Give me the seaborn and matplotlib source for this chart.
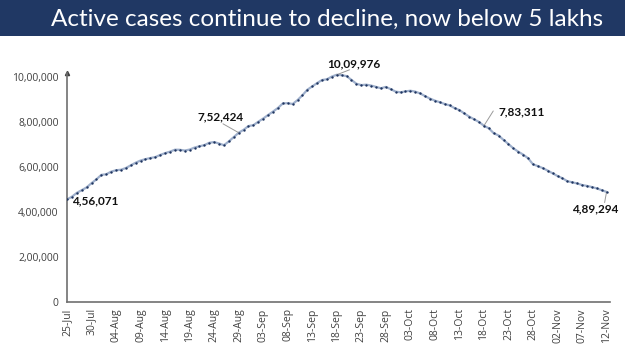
import matplotlib
matplotlib.use("Agg")
import matplotlib.pyplot as plt
import matplotlib.ticker as ticker
from matplotlib.patches import Rectangle
import numpy as np
import pandas as pd
import seaborn as sns

# daily active cases, 25-Jul .. 12-Nov
active = [
    456071, 467882, 485114, 496988, 509447, 528242, 545318,          # 25-31 Jul
    565103, 567730, 579357, 585587, 587825, 595501, 607384, 619088,  # 1-8 Aug
    628747, 634945, 639929, 643948, 653622, 661595, 668220, 676900,  # 9-16 Aug
    676514, 673166, 677444, 686395, 692028, 697330, 707668, 710771,  # 17-24 Aug
    704348, 697000, 714000, 733000, 752424, 765302, 781975,          # 25-31 Aug
    785996, 801282, 815538, 831124, 846395, 862320, 882542, 883697,  # 1-8 Sep
    880000, 897394, 919018, 943480, 958316, 973175, 986598, 990061,  # 9-16 Sep
    1002000, 1009976, 1008000, 1004000, 987000, 970000, 964000,      # 17-23 Sep
    966000, 962000, 956000, 950000, 956000, 946000, 935000,          # 24-30 Sep
    932000, 936000, 939000, 935000, 927000, 915000, 904000, 895000,  # 1-8 Oct
    888000, 880000, 874000, 862000, 853000, 838000, 824000, 812000,  # 9-16 Oct
    800000, 783311, 772000, 750000, 740000, 720000, 702000, 683000,  # 17-24 Oct
    668000, 655000, 639000, 612000, 604000, 595000, 584000,          # 25-31 Oct
    572000, 560000, 550000, 537000, 532000, 527000, 520000, 516000,  # 1-8 Nov
    511000, 505000, 497000, 489294,                                  # 9-12 Nov
]
dates = pd.date_range("2020-07-25", "2020-11-12", freq="D")

# labelled days
callouts = ["2020-07-25", "2020-08-29", "2020-09-18", "2020-10-18", "2020-11-12"]

def lakh_fmt(v):
    s = str(int(round(v)))
    if len(s) <= 3:
        return s
    head, tail = s[:-3], s[-3:]
    parts = []
    while len(head) > 2:
        parts.insert(0, head[-2:])
        head = head[:-2]
    if head:
        parts.insert(0, head)
    return ",".join(parts + [tail])

df = pd.DataFrame({"day": np.arange(len(active)), "active": active})

sns.set_style("white")
plt.rcParams['font.family'] = ['Open Sans', 'DejaVu Sans']

fig = plt.figure(figsize=(6.25, 3.51), dpi=100)
fig.patches.append(Rectangle((0, 1 - 36 / 351), 1, 36 / 351, transform=fig.transFigure,
                             facecolor="#203864", edgecolor="none", zorder=0))
fig.text(0.523, 1 - 19 / 351, "Active cases continue to decline, now below 5 lakhs",
         color="white", fontsize=17.5, ha="center", va="center", family=['Lato', 'DejaVu Sans'])

ax = fig.add_axes([67 / 625, 1 - 302 / 351, 543 / 625, (302 - 72.5) / 351])
sns.lineplot(data=df, x="day", y="active", ax=ax, color="#9fb0cc", linewidth=1.6)
sns.scatterplot(data=df, x="day", y="active", ax=ax, color="#1f3560", s=3, linewidth=0, zorder=3)

ax.set_xlim(0, 110.7)
ax.set_ylim(0, 1.02e6)
ax.set_xlabel("")
ax.set_ylabel("")

ax.yaxis.set_major_locator(ticker.MultipleLocator(200000))
ax.yaxis.set_major_formatter(ticker.FuncFormatter(lambda v, p: lakh_fmt(v)))
xt = np.arange(0, len(dates), 5)
ax.set_xticks(xt)
ax.set_xticklabels([dates[i].strftime("%d-%b") for i in xt], rotation=90)
ax.tick_params(axis='y', length=0, labelsize=7.5, colors="#404040", pad=6)
ax.tick_params(axis='x', direction='inout', length=5, width=0.8, color="#606060",
               labelsize=7.5, labelcolor="#404040", pad=2)

for s in ["top", "right"]:
    ax.spines[s].set_visible(False)
for s in ["left", "bottom"]:
    ax.spines[s].set_color("#707070")
    ax.spines[s].set_linewidth(1.2)
ax.plot(0, 1, marker="^", color="#404040", markersize=3, transform=ax.transAxes, clip_on=False)

# label placement: text (x, y), alignment and optional leader start (x, y), data units
place = {
    "2020-07-25": ((1.0, 4.49e5), "left", None),
    "2020-08-29": ((31.4, 8.22e5), "center", (31.8, 7.92e5)),
    "2020-09-18": ((58.4, 1.058e6), "center", (57.6, 1.032e6)),
    "2020-10-18": ((92.7, 8.44e5), "center", (86.9, 8.49e5)),
    "2020-11-12": ((112.4, 4.13e5), "right", (109.6, 4.42e5)),
}
for d in callouts:
    i = dates.get_loc(pd.Timestamp(d))
    (tx, ty), ha, lead = place[d]
    ax.text(tx, ty, lakh_fmt(active[i]), fontsize=8.5, fontweight="bold", color="#111111",
            ha=ha, va="center", family=['Lato', 'DejaVu Sans'], clip_on=False)
    if lead:
        ax.plot([lead[0], i], [lead[1], active[i]], color="#999999", lw=0.7,
                zorder=2, clip_on=False)

fig.savefig("out.png", dpi=100)
